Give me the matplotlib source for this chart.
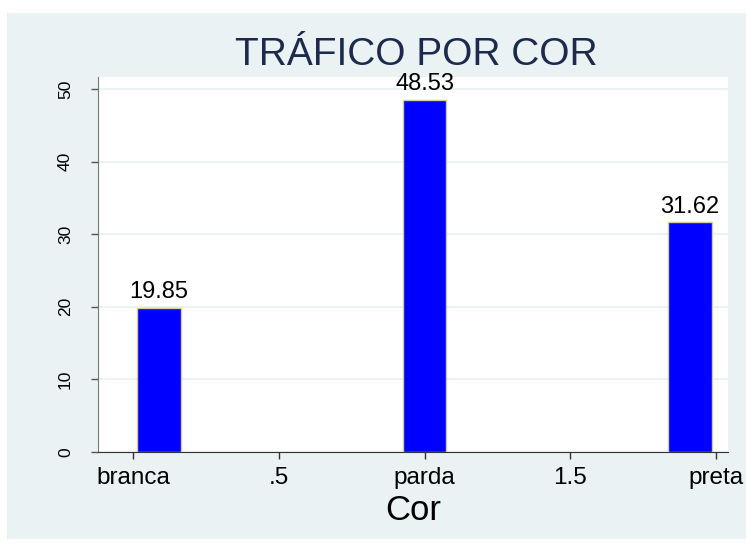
# Bar chart: traffic share by colour (Stata s2color style)
import matplotlib
matplotlib.use('Agg')
import matplotlib.pyplot as plt
from matplotlib.patches import Rectangle

plt.rcParams['font.family'] = ['Liberation Sans', 'DejaVu Sans']

# data
categories = ['branca', 'parda', 'preta']
bar_x = [0.09, 1.0, 1.91]
values = [19.85, 48.53, 31.62]
xtick_pos = [0, 0.5, 1, 1.5, 2]
xtick_labels = ['branca', '.5', 'parda', '1.5', 'preta']
ytick_pos = [0, 10, 20, 30, 40, 50]

bg = '#eaf2f3'
W, H = 746, 544

fig = plt.figure(figsize=(W / 100, H / 100), dpi=100, facecolor='white')

# outer light background region
fig.patches.append(Rectangle((7 / W, 1 - 539 / H), (W - 7) / W, (539 - 13) / H,
                             transform=fig.transFigure, facecolor=bg,
                             edgecolor='none', zorder=-10))

ax = fig.add_axes([98 / W, 1 - 452 / H, (728 - 98) / W, (452 - 77) / H])
ax.set_facecolor('white')
ax.set_zorder(1)

ax.bar(bar_x, values, width=0.15, color='#0000ff', edgecolor='#d6c99a',
       linewidth=1.0, zorder=3)
for x, v in zip(bar_x, values):
    ax.annotate(f'{v:.2f}', (x, v), xytext=(0, 3.5), textcoords='offset points',
                ha='center', va='bottom', fontsize=17, color='black')

ax.set_xlim(-0.12, 2.041)
ax.set_ylim(0, 51.65)

ax.set_yticks(ytick_pos)
ax.set_yticklabels([str(t) for t in ytick_pos], rotation=90, va='center',
                   fontsize=12.5)
ax.set_xticks(xtick_pos)
ax.set_xticklabels(xtick_labels, fontsize=17.5)

ax.tick_params(axis='y', length=5, width=1, color='#555555', pad=13)
ax.tick_params(axis='x', length=5, width=1, color='#333333', pad=6)
ax.grid(axis='y', color=bg, linewidth=1.5, zorder=0)
ax.set_axisbelow(True)

for s in ['top', 'right']:
    ax.spines[s].set_visible(False)
ax.spines['left'].set_color('#777777')
ax.spines['bottom'].set_color('#333333')

fig.text(416 / W, 1 - 65 / H, 'TRÁFICO POR COR', ha='center', va='baseline',
         fontsize=28, color='#1c2a4e')
fig.text(413 / W, 1 - 520 / H, 'Cor', ha='center', va='baseline',
         fontsize=25, color='black')

fig.savefig('out.png', dpi=100, facecolor='white')
